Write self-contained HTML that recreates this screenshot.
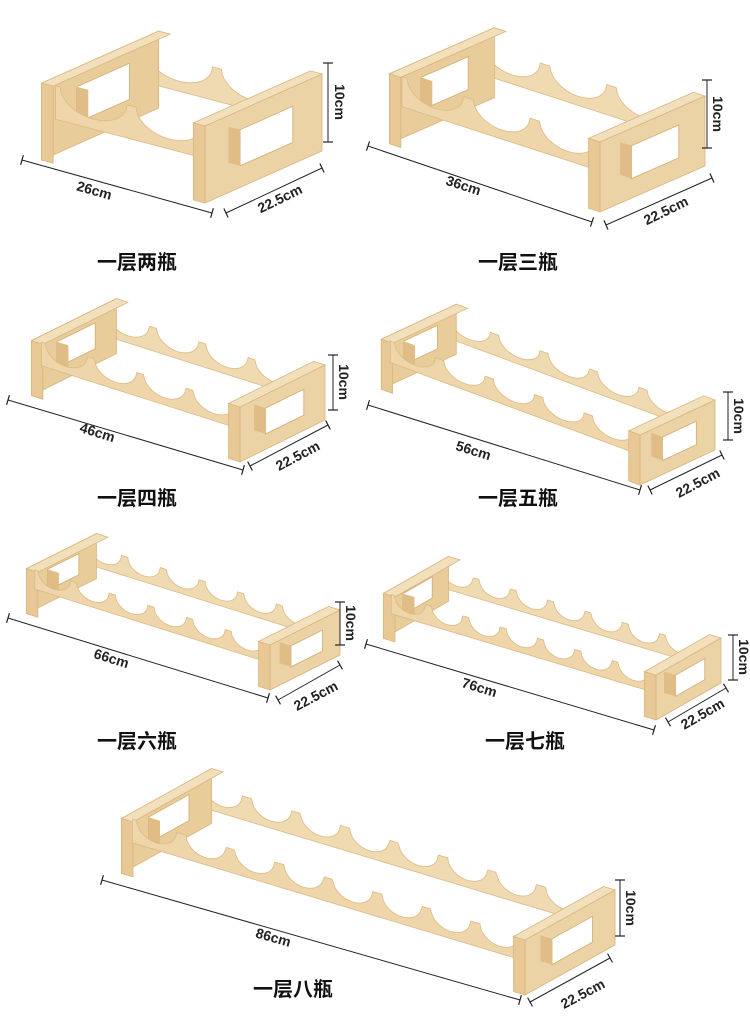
<!DOCTYPE html>
<html><head><meta charset="utf-8">
<style>
html,body{margin:0;padding:0;background:#fff;width:750px;height:1036px;overflow:hidden}
.lbl{position:absolute;font-family:"Liberation Sans","Noto Sans CJK SC",sans-serif;font-weight:bold;font-size:20px;color:#111;white-space:nowrap}
svg{position:absolute;left:0;top:0}
</style></head><body>
<svg id="s" width="750" height="1036" xmlns="http://www.w3.org/2000/svg"></svg>
<div class="lbl" style="left:97px;top:246px">一层两瓶</div>
<div class="lbl" style="left:478px;top:246px">一层三瓶</div>
<div class="lbl" style="left:97px;top:482px">一层四瓶</div>
<div class="lbl" style="left:478px;top:482px">一层五瓶</div>
<div class="lbl" style="left:97px;top:725px">一层六瓶</div>
<div class="lbl" style="left:485px;top:725px">一层七瓶</div>
<div class="lbl" style="left:253px;top:973px">一层八瓶</div>
<script>
var out='';
function P(o,L,D,H,t,d,h){return [o[0]+L[0]*t+D[0]*d+H[0]*h,o[1]+L[1]*t+D[1]*d+H[1]*h];}
function poly(pts,fill,stroke){return '<polygon points="'+pts.map(function(p){return p[0].toFixed(1)+','+p[1].toFixed(1)}).join(' ')+'" fill="'+fill+'" stroke="'+(stroke||'none')+'" stroke-width="0.8"/>';}
function rack(o,L,D,H,n){
  var len=Math.hypot(L[0],L[1]);var th=12/len;
  function rail(d,col){
    var pts=[];var N=300;
    for(var i=0;i<=N;i++){var t=th+(1-2*th)*i/N;var h=0.88;
      for(var k=0;k<n;k++){var c=th+(1-2*th)*(k+0.5)/n;var r=0.38/n;var u=(t-c)/r;if(Math.abs(u)<1){h=0.88-0.3*Math.sqrt(1-u*u);}}
      pts.push(P(o,L,D,H,t,d,h));}
    pts.push(P(o,L,D,H,1-th,d,0.45));pts.push(P(o,L,D,H,th,d,0.45));
    return poly(pts,col,'#dcb984');
  }
  function panel(t0,front){
    var s='';
    var f=[P(o,L,D,H,t0,0,0),P(o,L,D,H,t0,1,0),P(o,L,D,H,t0,1,1),P(o,L,D,H,t0,0,1)];
    s+=poly(f,front?'#ebd3a5':'#e8cc9a','#dab47c');
    var hole=[P(o,L,D,H,t0,0.3,0.28),P(o,L,D,H,t0,0.75,0.28),P(o,L,D,H,t0,0.75,0.75),P(o,L,D,H,t0,0.3,0.75)];
    s+=poly(hole,'#fff','#d4ab70');
    var t1=t0+(front?-th:th);
    s+=poly([P(o,L,D,H,t0,0.3,0.28),P(o,L,D,H,t0,0.3,0.75),P(o,L,D,H,t1,0.3,0.75),P(o,L,D,H,t1,0.3,0.28)],'#e0bd86');
    var a=front?t0-th:t0, b=front?t0:t0+th;
    s+=poly([P(o,L,D,H,a,0,0),P(o,L,D,H,b,0,0),P(o,L,D,H,b,0,1),P(o,L,D,H,a,0,1)],'#e8c996','#dab47c');
    s+=poly([P(o,L,D,H,a,0,1),P(o,L,D,H,b,0,1),P(o,L,D,H,b,1,1),P(o,L,D,H,a,1,1)],'#f2e0bd','#dab47c');
    return s;
  }
  out+=rail(0.85,'#efdab2');
  out+=panel(th,false);
  out+=rail(0.12,'#eed6aa');
  out+=panel(1,true);
}
function dim(x1,y1,x2,y2,txt,tx,ty,ang){
  var dx=x2-x1,dy=y2-y1,l=Math.hypot(dx,dy),nx=-dy/l*5,ny=dx/l*5;
  out+='<line x1="'+x1+'" y1="'+y1+'" x2="'+x2+'" y2="'+y2+'" stroke="#222" stroke-width="1"/>';
  out+='<line x1="'+(x1-nx)+'" y1="'+(y1-ny)+'" x2="'+(x1+nx)+'" y2="'+(y1+ny)+'" stroke="#222" stroke-width="1.2"/>';
  out+='<line x1="'+(x2-nx)+'" y1="'+(y2-ny)+'" x2="'+(x2+nx)+'" y2="'+(y2+ny)+'" stroke="#222" stroke-width="1.2"/>';
  out+='<text x="'+tx+'" y="'+ty+'" transform="rotate('+ang+' '+tx+' '+ty+')" font-family="Liberation Sans,sans-serif" font-size="14" font-weight="bold" fill="#222" text-anchor="middle">'+txt+'</text>';
}
rack([30,157],[175,46],[117,-52],[0,-77],2);
rack([378,140],[222,72],[105,-46],[0,-70],3);
rack([20,392],[220,70],[85,-42],[0,-55],4);
rack([370,385],[270,100],[75,-35],[0,-50],5);
rack([15,610],[255,80],[70,-35],[0,-45],6);
rack([372,635],[284,85],[65,-37],[0,-45],7);
rack([110,870],[415,125],[90,-50],[0,-55],8);

dim(22,160,212,213,'26cm',93,195,16);
dim(226,213,322,168,'22.5cm',282,203,-26);
dim(328,63,328,142,'10cm',335,102,90);

dim(368,146,592,222,'36cm',462,190,18);
dim(606,225,712,178,'22.5cm',668,215,-26);
dim(707,80,707,148,'10cm',713,114,90);

dim(8,400,243,470,'46cm',96,437,17);
dim(250,466,328,425,'22.5cm',300,460,-28);
dim(333,355,333,410,'10cm',339,382,90);

dim(368,405,640,490,'56cm',472,455,17);
dim(650,490,722,455,'22.5cm',700,487,-28);
dim(728,392,728,440,'10cm',734,416,90);

dim(8,618,268,698,'66cm',110,663,17);
dim(278,700,340,665,'22.5cm',318,700,-28);
dim(340,602,340,645,'10cm',346,623,90);

dim(366,644,654,730,'76cm',478,692,17);
dim(668,722,726,688,'22.5cm',705,718,-30);
dim(733,635,733,680,'10cm',739,657,90);

dim(102,880,520,1000,'86cm',272,942,16);
dim(530,1002,610,958,'22.5cm',585,998,-28);
dim(620,880,620,936,'10cm',626,908,90);
document.getElementById('s').innerHTML=out;
</script>
</body></html>
